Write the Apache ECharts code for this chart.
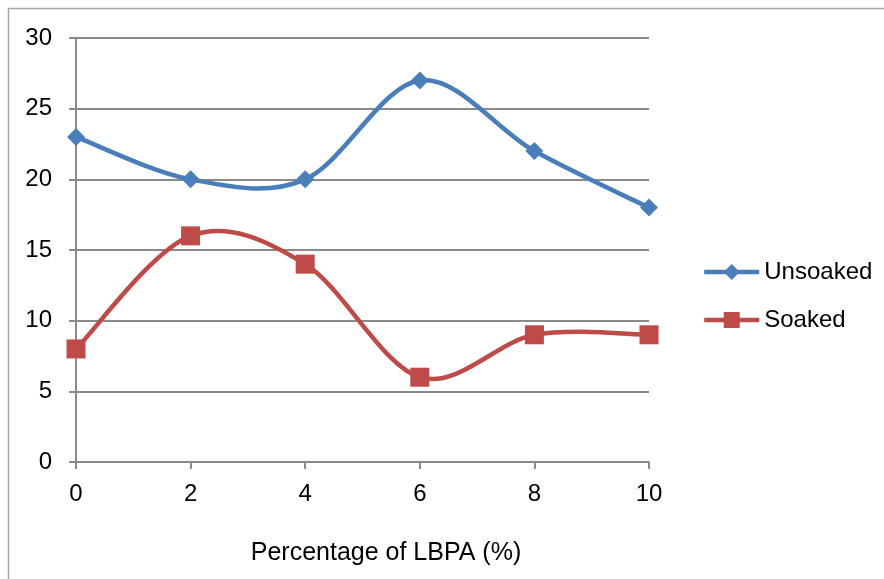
<!DOCTYPE html>
<html>
<head>
<meta charset="utf-8">
<script src="https://cdn.jsdelivr.net/npm/echarts@6/dist/echarts.min.js"></script>
<style>
  html, body { margin: 0; padding: 0; background: #fff; }
  #chart { width: 884px; height: 579px; }
</style>
</head>
<body>
<div id="chart"></div>
<script>
// LBPA percentage (x) and the two measured series
const lbpa = [0, 2, 4, 6, 8, 10]
const unsoaked = [23, 20, 20, 27, 22, 18]
const soaked = [8, 16, 14, 6, 9, 9]

const font = 'Liberation Sans'
const grey = '#8a8a8a'
const blue = '#4a7ebb'
const red = '#be4b48'

// spreadsheet-style smoothing: one bezier segment per point pair
function curveItem(params, api) {
  const i = params.dataIndexInside
  const n = params.dataInsideLength
  if (i >= n - 1) return null
  const pt = (k) => api.coord([api.value(0, k), api.value(1, k)])
  const p1 = pt(i)
  const p2 = pt(i + 1)
  const p0 = i > 0 ? pt(i - 1) : p1
  const p3 = i + 2 < n ? pt(i + 2) : p2
  return {
    type: 'bezierCurve',
    shape: {
      x1: p1[0], y1: p1[1], x2: p2[0], y2: p2[1],
      cpx1: p1[0] + (p2[0] - p0[0]) / 6,
      cpy1: p1[1] + (p2[1] - p0[1]) / 6,
      cpx2: p2[0] - (p3[0] - p1[0]) / 6,
      cpy2: p2[1] - (p3[1] - p1[1]) / 6,
    },
    style: { stroke: api.visual('color'), lineWidth: 4.5, fill: 'none', lineCap: 'round' },
  }
}

const chart = echarts.init(document.getElementById('chart'))
const option = {
  animation: false,
  backgroundColor: '#fff',
  textStyle: { fontFamily: font },
  grid: { left: 76, right: 235, top: 38, bottom: 117 },
  xAxis: {
    type: 'value',
    min: 0,
    max: 10,
    interval: 2,
    axisLine: { onZero: false, lineStyle: { color: grey, width: 2 } },
    axisTick: { show: true, length: 7, lineStyle: { color: grey, width: 2 } },
    axisLabel: { color: '#000', fontSize: 24, margin: 20, fontFamily: font },
    splitLine: { show: false },
  },
  yAxis: {
    type: 'value',
    min: 0,
    max: 30,
    interval: 5,
    axisLine: { show: true, lineStyle: { color: grey, width: 2 } },
    axisTick: { show: true, length: 7, lineStyle: { color: grey, width: 2 } },
    axisLabel: { color: '#000', fontSize: 24, margin: 24, fontFamily: font },
    splitLine: { lineStyle: { color: grey, width: 2 } },
  },
  legend: {
    orient: 'vertical',
    left: 697,
    top: 255,
    itemWidth: 55,
    itemHeight: 20,
    itemGap: 24,
    textStyle: { color: '#000', fontSize: 24, fontFamily: font },
    data: [
      { name: 'Unsoaked', lineStyle: { color: blue, width: 4.5, opacity: 1 } },
      { name: 'Soaked', lineStyle: { color: red, width: 4.5, opacity: 1 } },
    ],
  },
  graphic: [
    {
      type: 'rect',
      shape: { x: 8.5, y: 8.5, width: 1000, height: 1000 },
      style: { fill: 'none', stroke: '#a6a6a6', lineWidth: 1.5 },
      silent: true,
    },
    {
      type: 'text',
      x: 386,
      y: 553,
      style: {
        text: 'Percentage of LBPA (%)', fontSize: 25, fontFamily: font, fill: '#000',
        align: 'center', verticalAlign: 'middle',
      },
    },
  ],
  series: [
    {
      name: 'Unsoaked curve',
      type: 'custom',
      renderItem: curveItem,
      data: lbpa.map((x, i) => [x, unsoaked[i]]),
      itemStyle: { color: blue },
      z: 2,
    },
    {
      name: 'Soaked curve',
      type: 'custom',
      renderItem: curveItem,
      data: lbpa.map((x, i) => [x, soaked[i]]),
      itemStyle: { color: red },
      z: 2,
    },
    {
      name: 'Unsoaked',
      type: 'line',
      data: lbpa.map((x, i) => [x, unsoaked[i]]),
      symbol: 'diamond',
      symbolSize: 18,
      lineStyle: { opacity: 0 },
      itemStyle: { color: blue },
      z: 3,
    },
    {
      name: 'Soaked',
      type: 'line',
      data: lbpa.map((x, i) => [x, soaked[i]]),
      symbol: 'rect',
      symbolSize: 19,
      lineStyle: { opacity: 0 },
      itemStyle: { color: red },
      z: 3,
    },
  ],
}
chart.setOption(option)
</script>
</body>
</html>
